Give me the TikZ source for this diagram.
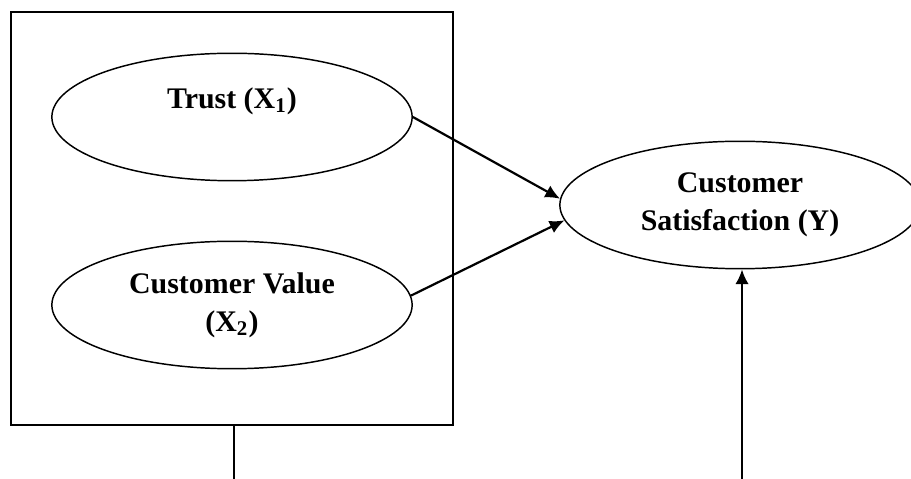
\documentclass[tikz,border=0pt]{standalone}
\usepackage{fontspec}
\setmainfont{Liberation Serif}
\usetikzlibrary{shapes.geometric,arrows.meta}
\tikzset{
  var/.style={draw,ellipse,line width=0.6pt,minimum width=147pt,minimum height=52pt,
    align=center,font=\bfseries\fontsize{12.2}{15.5}\selectfont},
  arr/.style={line width=0.9pt,-{Latex[length=6pt,width=5.5pt]}}
}
\begin{document}
\begin{tikzpicture}[x=0.408pt,y=-0.408pt]
 \useasboundingbox (0,0) rectangle (911,479);
 \node[draw,line width=0.6pt,minimum width=180.3pt,minimum height=168.5pt] (frame) at (232,218.5) {};
 \node[var] (trust) at (232,117) {Trust (X\textsubscript{1})\\~};
 \node[var] (value) at (232,305) {Customer Value\\(X\textsubscript{2})};
 \node[var] (sat) at (740,205) {Customer\\Satisfaction (Y)};
 \coordinate (lowA) at (234,479);
 \coordinate (lowB) at (742,479);
 \draw[line width=0.6pt] (frame.south -| lowA) -- (lowA);
 \draw[arr] (trust.east) -- (sat.178);
 \draw[arr] (value.3) -- (sat.185);
 \draw[arr] (lowB) -- (lowB |- sat.south);
\end{tikzpicture}
\end{document}
